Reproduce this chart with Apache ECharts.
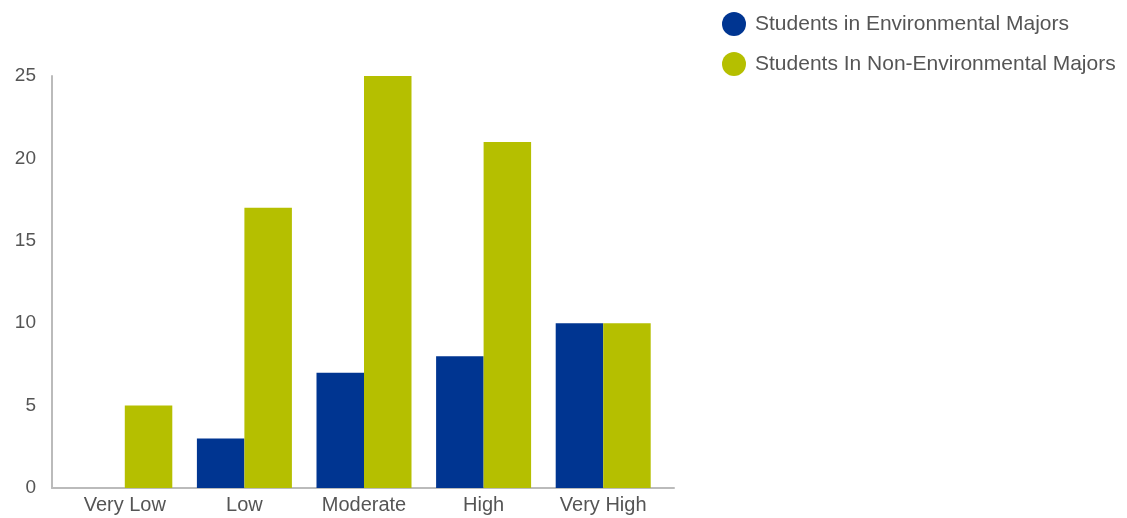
<!DOCTYPE html>
<html>
<head>
<meta charset="utf-8">
<script src="https://cdn.jsdelivr.net/npm/echarts@6/dist/echarts.min.js"></script>
<style>html,body{margin:0;padding:0;background:#fff}#c{width:1127px;height:518px}</style>
</head>
<body>
<div id="c"></div>
<script>
const categories = ['Very Low', 'Low', 'Moderate', 'High', 'Very High'];
const envMajors = [0, 3, 7, 8, 10];
const nonEnvMajors = [5, 17, 25, 21, 10];
const yTicks = [0, 5, 10, 15, 20, 25];

const FONT = '"Liberation Sans", Arial, sans-serif';
const chart = echarts.init(document.getElementById('c'));
chart.setOption({
  animation: false,
  textStyle: { fontFamily: FONT },
  legend: {
    orient: 'vertical', left: 722, top: 12, padding: 0, icon: 'circle',
    itemWidth: 24, itemHeight: 24, itemGap: 16,
    textStyle: { fontSize: 21, color: '#555', fontFamily: FONT, padding: [0, 0, 0, 4] },
    data: ['Students in Environmental Majors', 'Students In Non-Environmental Majors']
  },
  grid: [
    { left: 52, right: 453, top: 76, bottom: 30 },
    { left: 65, right: 464, top: 76, bottom: 30 }
  ],
  xAxis: [
    { gridIndex: 0, type: 'category', data: [''], axisLine: { lineStyle: { color: '#bbb', width: 2 } },
      axisTick: { show: false }, axisLabel: { show: false } },
    { gridIndex: 1, type: 'category', data: categories, axisLine: { show: false }, axisTick: { show: false },
      axisLabel: { fontSize: 20, color: '#555', margin: 7, fontFamily: FONT } }
  ],
  yAxis: [
    { gridIndex: 0, type: 'value', min: yTicks[0], max: yTicks[yTicks.length - 1], interval: 5,
      axisLine: { show: true, lineStyle: { color: '#bbb', width: 2 } }, axisTick: { show: false },
      splitLine: { show: false },
      axisLabel: { fontSize: 19, color: '#555', margin: 16, fontFamily: FONT } },
    { gridIndex: 1, type: 'value', min: yTicks[0], max: yTicks[yTicks.length - 1], interval: 5,
      show: false, splitLine: { show: false } }
  ],
  series: [
    { name: 'Students in Environmental Majors', type: 'bar', xAxisIndex: 1, yAxisIndex: 1,
      data: envMajors, barWidth: 47.5, barGap: '0%', itemStyle: { color: '#003591' } },
    { name: 'Students In Non-Environmental Majors', type: 'bar', xAxisIndex: 1, yAxisIndex: 1,
      data: nonEnvMajors, barWidth: 47.5, barGap: '0%', itemStyle: { color: '#b5bf00' } }
  ]
});
</script>
</body>
</html>
